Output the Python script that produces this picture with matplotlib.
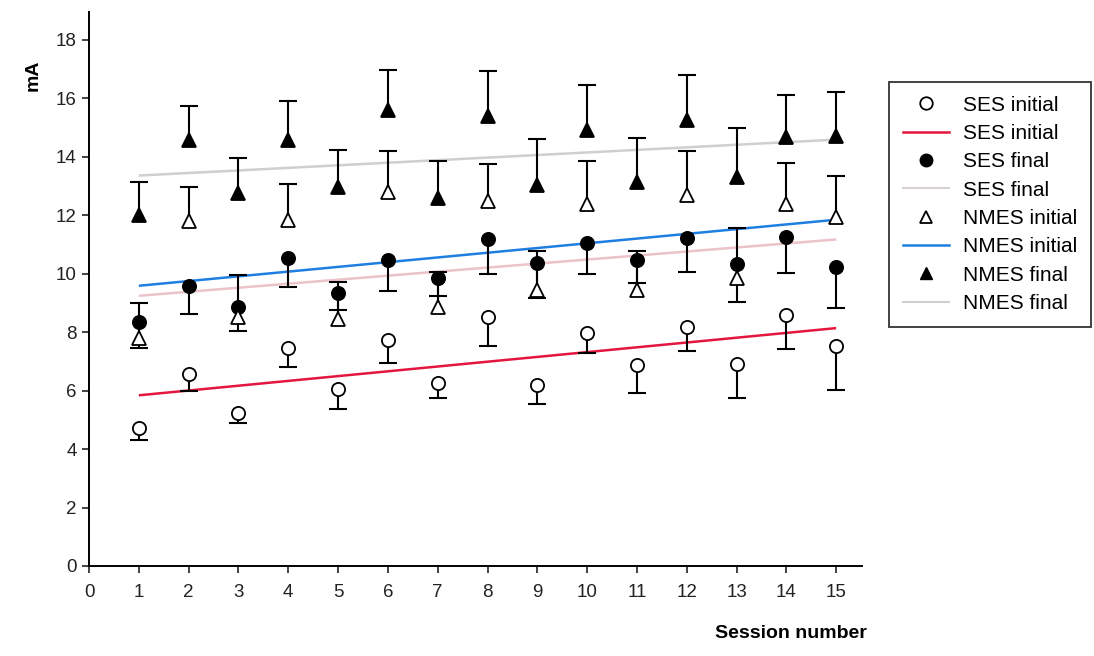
import numpy as np
import matplotlib
matplotlib.use("Agg")
import matplotlib.pyplot as plt
from matplotlib.lines import Line2D

plt.rcParams['font.family'] = ['Liberation Sans', 'DejaVu Sans']

sessions = np.arange(1, 16)

# Mean stimulation intensity (mA) per session and its error (one-sided)
ses_initial = [4.72, 6.56, 5.25, 7.47, 6.05, 7.73, 6.27, 8.51, 6.19, 7.96, 6.88, 8.19, 6.91, 8.59, 7.54]
ses_initial_err = [0.41, 0.59, 0.37, 0.67, 0.69, 0.77, 0.53, 1.00, 0.65, 0.67, 0.97, 0.83, 1.17, 1.17, 1.52]

ses_final = [8.33, 9.59, 8.87, 10.53, 9.35, 10.47, 9.84, 11.19, 10.36, 11.04, 10.47, 11.21, 10.34, 11.27, 10.24]
ses_final_err = [0.87, 0.98, 0.82, 0.99, 0.60, 1.08, 0.60, 1.21, 1.20, 1.05, 0.80, 1.16, 1.32, 1.24, 1.42]

nmes_initial = [7.80, 11.80, 8.53, 11.85, 8.44, 12.81, 8.85, 12.50, 9.45, 12.39, 9.45, 12.70, 9.84, 12.39, 11.93]
nmes_initial_err = [1.21, 1.17, 1.43, 1.21, 1.29, 1.37, 1.22, 1.26, 1.34, 1.45, 1.34, 1.51, 1.71, 1.39, 1.42]

nmes_final = [12.01, 14.56, 12.77, 14.58, 12.98, 15.61, 12.58, 15.40, 13.04, 14.92, 13.15, 15.26, 13.30, 14.67, 14.72]
nmes_final_err = [1.12, 1.16, 1.20, 1.33, 1.26, 1.34, 1.26, 1.52, 1.57, 1.52, 1.49, 1.54, 1.68, 1.43, 1.48]

x_ticks = list(range(0, 16))
y_ticks = list(range(0, 19, 2))

fig = plt.figure(figsize=(10.94, 6.56), dpi=100)
ax = fig.add_axes([0.0814, 0.1372, 0.7066, 0.8445])

series = [
    # values, errors, direction, marker, face, trend colour
    (ses_initial, ses_initial_err, 'down', 'o', 'white', '#e3173e'),
    (ses_final, ses_final_err, 'down', 'o', 'black', '#ebc3c8'),
    (nmes_initial, nmes_initial_err, 'up', '^', 'white', '#1f7fe0'),
    (nmes_final, nmes_final_err, 'up', '^', 'black', '#cfcfcf'),
]

# Linear trend lines (behind everything else)
for vals, errs, direction, mk, face, tcol in series:
    slope, icpt = np.polyfit(sessions, vals, 1)
    ax.plot(sessions, slope * sessions + icpt, color=tcol, lw=1.8, zorder=1,
            solid_capstyle='butt')

# Error bars with a single cap, then the markers on top
for vals, errs, direction, mk, face, tcol in series:
    vals = np.asarray(vals)
    errs = np.asarray(errs)
    zeros = np.zeros_like(errs)
    if direction == 'down':
        yerr = [errs, zeros]
        ends = vals - errs
    else:
        yerr = [zeros, errs]
        ends = vals + errs
    ax.errorbar(sessions, vals, yerr=yerr, fmt='none', ecolor='black',
                elinewidth=1.5, capsize=0, zorder=2)
    ax.plot(sessions, ends, linestyle='none', marker='_', markersize=12.5,
            markeredgewidth=1.5, color='black', zorder=2)
    ax.plot(sessions, vals, linestyle='none', marker=mk, markersize=9.5 if mk == 'o' else 9.5,
            markerfacecolor=face, markeredgecolor='black', markeredgewidth=1.3, zorder=3)

ax.set_xlim(0, 15.52)
ax.set_ylim(0, 18.95)
ax.set_xticks(x_ticks)
ax.set_yticks(y_ticks)
ax.spines['top'].set_visible(False)
ax.spines['right'].set_visible(False)
ax.spines['left'].set_linewidth(1.4)
ax.spines['bottom'].set_linewidth(1.4)
ax.tick_params(axis='both', direction='out', length=5, width=1.2, labelsize=13.5,
               colors='#222222')
ax.tick_params(axis='x', pad=8)
ax.tick_params(axis='y', pad=4)

fig.text(0.030, 0.885, 'mA', rotation=90, fontsize=14, fontweight='bold',
         ha='center', va='center')
fig.text(0.792, 0.022, 'Session number', fontsize=14, fontweight='bold',
         ha='right', va='bottom')

labels = ['SES initial', 'SES initial', 'SES final', 'SES final',
          'NMES initial', 'NMES initial', 'NMES final', 'NMES final']
handles = [
    Line2D([], [], linestyle='none', marker='o', markersize=9, markerfacecolor='white',
           markeredgecolor='black', markeredgewidth=1.3),
    Line2D([], [], color='#e3173e', lw=1.8),
    Line2D([], [], linestyle='none', marker='o', markersize=9, markerfacecolor='black',
           markeredgecolor='black'),
    Line2D([], [], color='#d6d0d0', lw=1.5),
    Line2D([], [], linestyle='none', marker='^', markersize=8, markerfacecolor='white',
           markeredgecolor='black', markeredgewidth=1.3),
    Line2D([], [], color='#1f7fe0', lw=1.8),
    Line2D([], [], linestyle='none', marker='^', markersize=8, markerfacecolor='black',
           markeredgecolor='black'),
    Line2D([], [], color='#cfcfcf', lw=1.5),
]
leg = fig.legend(handles, labels, loc='upper left', bbox_to_anchor=(0.8126, 0.875),
                 fontsize=15, frameon=True, fancybox=False, edgecolor='black',
                 borderpad=0.65, labelspacing=0.45, handlelength=2.25, handletextpad=0.67,
                 borderaxespad=0)
leg.get_frame().set_linewidth(1.3)

fig.savefig('out.png', dpi=100)
